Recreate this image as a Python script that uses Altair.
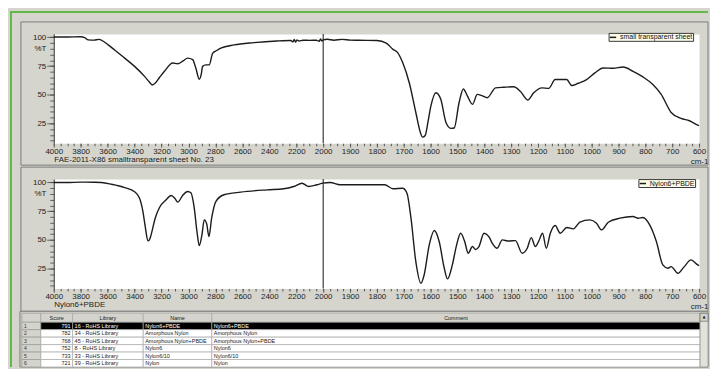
import altair as alt
import pandas as pd

# ---------------- data ----------------
wn1 = [4000, 3900, 3800, 3770, 3745, 3700, 3665, 3596, 3548, 3474, 3400, 3326, 3290, 3270,
       3252, 3215, 3178, 3117, 3080, 3040, 3006, 2969, 2945, 2920, 2905, 2895, 2871, 2846,
       2821, 2790, 2760, 2662, 2514, 2342, 2240, 2225, 2215, 2205, 2195, 2180, 2150, 2100,
       2050, 2030, 2020, 2010, 2000, 1985, 1960, 1930, 1900, 1870, 1800, 1765, 1740, 1722,
       1704, 1679, 1655, 1638, 1630, 1620, 1610, 1599, 1580, 1562, 1543, 1525, 1512, 1494,
       1478, 1463, 1444, 1426, 1407, 1389, 1358, 1327, 1290, 1266, 1238, 1216, 1185, 1160,
       1136, 1093, 1074, 1050, 1019, 988, 957, 920, 883, 846, 809, 772, 741, 704, 667, 636,
       605, 600]
t1 = [100.3, 100.3, 100.5, 99.8, 97.8, 97.6, 98.2, 93.4, 89.0, 81.9, 74.7, 66.0, 61.0, 58.5,
      59.5, 65.0, 70.4, 77.6, 77.0, 79.5, 81.9, 80.5, 73.0, 63.5, 68.0, 74.7, 76.0, 76.0,
      86.0, 88.5, 90.5, 93.4, 95.4, 96.8, 97.2, 96.0, 98.2, 95.8, 97.8, 96.8, 97.5, 97.3,
      97.5, 96.5, 98.5, 96.8, 97.8, 98.3, 97.5, 98.2, 97.6, 97.4, 97.2, 95.0, 89.5, 86.5,
      78.0, 60.0, 34.5, 17.0, 13.0, 14.5, 26.0, 40.0, 51.7, 46.0, 26.0, 20.7, 21.0, 43.0,
      55.0, 48.9, 41.6, 50.3, 49.0, 47.4, 56.0, 56.5, 56.9, 53.0, 45.4, 51.7, 56.0, 55.5,
      63.2, 63.2, 58.0, 60.0, 63.2, 69.0, 73.3, 73.0, 74.1, 70.4, 65.5, 58.9, 50.3, 34.5,
      29.3, 27.3, 23.5, 23.0]

wn2 = [4000, 3900, 3800, 3700, 3646, 3572, 3474, 3400, 3363, 3338, 3319, 3301, 3290, 3277,
       3247, 3215, 3166, 3129, 3100, 3080, 3043, 3006, 2982, 2957, 2937, 2920, 2900, 2883,
       2865, 2848, 2828, 2797, 2736, 2613, 2416, 2293, 2219, 2157, 2108, 2047, 2002, 1974,
       1937, 1870, 1771, 1740, 1704, 1688, 1673, 1655, 1636, 1624, 1605, 1586, 1568, 1549,
       1537, 1519, 1503, 1488, 1473, 1460, 1444, 1432, 1420, 1401, 1383, 1370, 1352, 1333,
       1309, 1284, 1259, 1240, 1225, 1210, 1197, 1183, 1169, 1154, 1136, 1117, 1093, 1068,
       1044, 1007, 982, 963, 938, 895, 846, 827, 809, 784, 759, 735, 716, 704, 679, 655,
       630, 605, 600]
t2 = [100.0, 100.0, 100.3, 100.2, 100.0, 98.5, 95.6, 92.0, 86.3, 74.7, 60.0, 49.2, 50.0, 54.6,
      68.9, 78.2, 84.9, 88.7, 86.0, 82.9, 88.7, 92.2, 91.0, 77.6, 57.3, 45.0, 54.4, 67.4,
      64.0, 53.0, 68.9, 83.4, 89.3, 91.6, 93.6, 94.5, 96.5, 99.4, 96.5, 98.0, 99.4, 100.0,
      98.0, 98.0, 98.0, 94.5, 95.0, 90.7, 68.9, 31.0, 12.2, 19.5, 45.7, 58.2, 48.6, 25.3,
      16.0, 28.2, 45.7, 55.8, 48.6, 38.4, 44.2, 41.6, 44.2, 55.8, 52.9, 47.0, 42.7, 50.0,
      49.0, 49.4, 38.4, 42.7, 52.0, 44.2, 49.0, 55.8, 42.7, 55.8, 62.5, 55.8, 60.8, 59.6,
      65.4, 67.4, 64.5, 58.7, 65.4, 68.9, 70.4, 68.9, 69.5, 63.1, 48.6, 28.2, 25.3, 26.7,
      20.9, 26.7, 32.6, 28.2, 27.5]

series1 = "small transparent sheet"
series2 = "Nylon6+PBDE"
caption1 = "FAE-2011-X86 smalltransparent sheet No. 23"
caption2 = "Nylon6+PBDE"

x_major = list(range(4000, 1999, -200)) + list(range(1900, 599, -100))
x_minor = list(range(4000, 2000, -50)) + list(range(2000, 599, -25))
y_major = [25, 50, 75, 100]
y_minor = list(range(10, 101, 5))
y_unit_label = ["%T"]

header = ["Score", "Library", "Name", "Comment"]
row_numbers = ["1", "2", "3", "4", "5", "6"]
scores = ["791", "782", "768", "752", "733", "721"]
libraries = ["16 - RoHS Library", "34 - RoHS Library", "45 - RoHS Library",
             "8 - RoHS Library", "33 - RoHS Library", "39 - RoHS Library"]
names = ["Nylon6+PBDE", "Amorphous Nylon", "Amorphous Nylon+PBDE", "Nylon6", "Nylon6/10", "Nylon"]
comments = ["Nylon6+PBDE", "Amorphous Nylon", "Amorphous Nylon+PBDE", "Nylon6", "Nylon6/10", "Nylon"]

# ---------------- styling / layout ----------------
FONT = "Liberation Sans"
BG = "#d5d5cd"
INK = "#222222"
W, H = 649, 110
RIGHT = 658          # right edge of the frames, relative to plot left

XS = alt.Scale(domain=[4000, 2000, 600], range=[0, 271, W], nice=False)
YS = alt.Scale(domain=[7.7, 103], nice=False, zero=False)


def x_axis_major(caption):
    return alt.Axis(
        orient="bottom", values=x_major, format="d",
        labelExpr="datum.value == 600 ? ['600', 'cm-1'] : datum.label",
        tickSize=4, tickColor="#555555", tickWidth=0.8, domain=False, grid=False,
        labelFont=FONT, labelFontSize=8, labelColor=INK, labelPadding=0,
        labelOverlap=False, labelFlush=False, labelBound=False, labelLineHeight=10,
        title=caption, titleFont=FONT, titleFontSize=8, titleFontWeight="normal",
        titleColor=INK, titleAnchor="start", titleAlign="left", titleBaseline="top",
        titleX=0, titleY=12,
    )


x_axis_minor = alt.Axis(orient="bottom", values=x_minor, labels=False, tickSize=2.5,
                        tickColor="#555555", tickWidth=1, domain=False, grid=False,
                        title=None)

y_axis_major = alt.Axis(
    orient="left", values=y_major, tickSize=7, tickColor="#444444", tickWidth=0.8,
    domainColor="#333333", domainWidth=1, labelFont=FONT, labelFontSize=8,
    labelColor=INK, labelPadding=1, grid=False, title=None, labelOverlap=False)

y_axis_minor = alt.Axis(
    orient="left", values=y_minor, tickSize=4, tickColor="#444444", tickWidth=0.8,
    domain=False, grid=False, title=None, labelFont=FONT, labelFontSize=8,
    labelColor=INK, labelPadding=4, labelOverlap=False,
    labelExpr=f"datum.value == 90 ? '{y_unit_label[0]}' : ''")


def one_row():
    return pd.DataFrame({"k": [0]})


def panel(wn, t, name, caption, lx, ly, sym_color, frame_bottom, with_green):
    df = pd.DataFrame({"wn": wn, "t": t, "series": name})
    line = alt.Chart(df).mark_line(strokeWidth=1.4, interpolate="monotone").encode(
        x=alt.X("wn:Q", scale=XS, axis=x_axis_major(caption)),
        y=alt.Y("t:Q", scale=YS, axis=y_axis_major),
        color=alt.Color("series:N", scale=alt.Scale(range=["#1c1c1c"]),
                        legend=alt.Legend(
                            title=None, orient="none", legendX=lx, legendY=ly,
                            fillColor="#fbfbe8", strokeColor="#3a3a3a", padding=0.5,
                            labelFont=FONT, labelFontSize=7, labelColor="#111111",
                            symbolType="stroke", symbolSize=40, symbolStrokeWidth=1.5,
                            symbolStrokeColor=sym_color, labelLimit=300, rowPadding=0,
                            labelOffset=3)),
    )
    minor = alt.Chart(df).mark_point(opacity=0).encode(
        x=alt.X("wn:Q", scale=XS, axis=x_axis_minor),
        y=alt.Y("t:Q", scale=YS, axis=y_axis_minor),
    )
    split = alt.Chart(pd.DataFrame({"wn": [2000]})).mark_rule(
        color="#3a3a3a", strokeWidth=1.2).encode(x=alt.X("wn:Q", scale=XS, axis=None))
    frame = alt.Chart(one_row()).mark_rect(fillOpacity=0, stroke="#7a7a7a", strokeWidth=1).encode(
        x=alt.value(-33), x2=alt.value(RIGHT), y=alt.value(-12), y2=alt.value(frame_bottom))
    layers = [frame]
    if with_green:
        layers.append(alt.Chart(one_row()).mark_rule(color="#63b84a", strokeWidth=2).encode(
            x=alt.value(-44), x2=alt.value(RIGHT), y=alt.value(-22)))
        layers.append(alt.Chart(one_row()).mark_rule(color="#63b84a", strokeWidth=2).encode(
            x=alt.value(-43), y=alt.value(-23), y2=alt.value(335)))
    layers += [split, minor, line]
    return alt.layer(*layers).resolve_axis(x="independent", y="independent").properties(
        width=W, height=H, view=alt.ViewBackground(fill="white", stroke="transparent"))


p1 = panel(wn1, t1, series1, caption1, 558, -1, "#dcdcc4", 132, True)
p2 = panel(wn2, t2, series2, caption2, 588, 0, "#444444", 133, False)

# ---------------- result table ----------------
tdf = pd.DataFrame({
    "row": list(range(7)),
    "num": [""] + row_numbers,
    "score": [header[0]] + scores,
    "library": [header[1]] + libraries,
    "name": [header[2]] + names,
    "comment": [header[3]] + comments,
})
TY = alt.Scale(domain=[-0.2, 7], range=[-11, 43], nice=False, zero=False)
base = alt.Chart(tdf).transform_calculate(
    y0="datum.row == 0 ? -0.2 : datum.row",
    y1="datum.row + 1",
    ym="datum.row == 0 ? 0.4 : datum.row + 0.5",
    fill="datum.row == 0 ? '#d4d4cc' : (datum.row == 1 ? '#000000' : '#ffffff')",
    ink="datum.row == 1 ? '#ffffff' : '#1a1a1a'",
)
cols = [("score", -13, 19), ("library", 19, 90), ("name", 90, 159), ("comment", 159, 650)]
tlayers = []
tlayers.append(alt.Chart(one_row()).mark_rect(fill="#cfcfc7", stroke="#808080", strokeWidth=1).encode(
    x=alt.value(-34), x2=alt.value(RIGHT), y=alt.value(-13), y2=alt.value(43)))
tlayers.append(base.mark_rect(fill="#d4d4cc", stroke="#9a9a9a", strokeWidth=0.7).encode(
    x=alt.value(-32), x2=alt.value(-13),
    y=alt.Y("y0:Q", scale=TY, axis=None), y2="y1:Q"))
tlayers.append(base.transform_filter("datum.row > 0").mark_text(
    align="left", baseline="middle", font=FONT, fontSize=5, color="#333333").encode(
    x=alt.value(-30), y=alt.Y("ym:Q", scale=TY, axis=None), text="num:N"))
for field, x0, x1 in cols:
    tlayers.append(base.mark_rect(stroke="#a8a8a8", strokeWidth=0.7).encode(
        x=alt.value(x0), x2=alt.value(x1),
        y=alt.Y("y0:Q", scale=TY, axis=None), y2="y1:Q",
        fill=alt.Fill("fill:N", scale=None)))
    tlayers.append(base.transform_filter("datum.row == 0").mark_text(
        align="center", baseline="middle", font=FONT, fontSize=5.5, color="#1a1a1a").encode(
        x=alt.value((x0 + x1) / 2), y=alt.Y("ym:Q", scale=TY, axis=None), text=f"{field}:N"))
    if field == "score":
        body = base.transform_filter("datum.row > 0").mark_text(
            align="right", baseline="middle", font=FONT, fontSize=5.5).encode(
            x=alt.value(x1 - 2), y=alt.Y("ym:Q", scale=TY, axis=None), text=f"{field}:N",
            color=alt.Color("ink:N", scale=None))
    else:
        body = base.transform_filter("datum.row > 0").mark_text(
            align="left", baseline="middle", font=FONT, fontSize=5.5).encode(
            x=alt.value(x0 + 2), y=alt.Y("ym:Q", scale=TY, axis=None), text=f"{field}:N",
            color=alt.Color("ink:N", scale=None))
    tlayers.append(body)
tlayers.append(alt.Chart(one_row()).mark_rect(fill="#e2e2da", stroke="#8a8a8a", strokeWidth=0.7).encode(
    x=alt.value(650), x2=alt.value(RIGHT), y=alt.value(-11), y2=alt.value(43)))
tlayers.append(alt.Chart(one_row()).mark_rect(fill="#d4d4cc", stroke="#6a6a6a", strokeWidth=0.7).encode(
    x=alt.value(650), x2=alt.value(RIGHT), y=alt.value(-11), y2=alt.value(-3)))
tlayers.append(alt.Chart(one_row()).mark_text(
    text="▲", font="DejaVu Sans", fontSize=4, color="#222222", baseline="middle").encode(
    x=alt.value(654), y=alt.value(-7)))

table = alt.layer(*tlayers).properties(
    width=W, height=43, view=alt.ViewBackground(fill="transparent", stroke="transparent"))

chart = alt.vconcat(p1, p2, table, spacing=36, bounds="flush").resolve_scale(
    x="independent", y="independent", color="independent"
).properties(
    padding={"left": 0, "top": 0, "right": 0, "bottom": 0}
).configure(
    background=BG, font=FONT
).configure_axis(
    labelOverlap=False
)

chart.save("out.html", embed_options={"renderer": "svg", "actions": False})
